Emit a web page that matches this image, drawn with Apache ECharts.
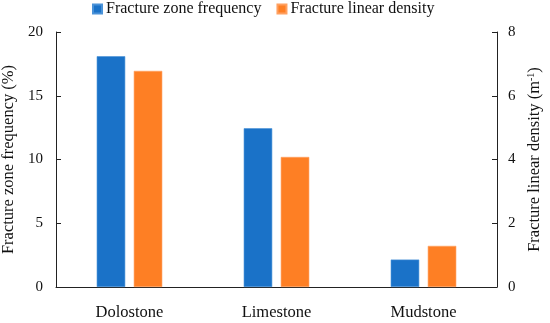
<!DOCTYPE html>
<html><head><meta charset="utf-8">
<script src="https://cdn.jsdelivr.net/npm/echarts@6/dist/echarts.min.js"></script>
<style>html,body{margin:0;padding:0;background:#fff}#c{width:550px;height:323px}</style>
</head><body><div id="c"></div>
<script>
var categories = ['Dolostone', 'Limestone', 'Mudstone'];
var zoneFrequency = [18.1, 12.45, 2.15];
var linearDensity = [6.78, 4.08, 1.29];
var leftTicks = [0, 5, 10, 15, 20];
var rightTicks = [0, 2, 4, 6, 8];

var font = '"Liberation Serif", "Times New Roman", serif';
var axisColor = '#222';
var chart = echarts.init(document.getElementById('c'));
chart.setOption({
  animation: false,
  textStyle: {fontFamily: font},
  legend: {
    top: -4, left: 87,
    itemWidth: 9, itemHeight: 9, itemGap: 15,
    icon: 'rect',
    textStyle: {fontFamily: font, fontSize: 16, color: '#111', padding: [0,0,0,-1]},
    data: ['Fracture zone frequency', 'Fracture linear density']
  },
  grid: {left: 56, right: 53, top: 32, bottom: 36, outerBoundsMode: 'none', containLabel: false},
  xAxis: {
    type: 'category', data: categories,
    axisLine: {lineStyle: {color: axisColor, width: 1}},
    axisTick: {show: false},
    axisLabel: {fontFamily: font, fontSize: 16.5, color: '#111', margin: 17}
  },
  yAxis: [{
    type: 'value', min: leftTicks[0], max: leftTicks[leftTicks.length-1], interval: 5,
    name: 'Fracture zone frequency (%)', nameLocation: 'middle', nameGap: 33,
    nameTextStyle: {fontFamily: font, fontSize: 16.5, color: '#111'},
    axisLine: {show: true, lineStyle: {color: axisColor, width: 1}},
    axisTick: {show: true, inside: true, length: 5, lineStyle: {color: axisColor}},
    axisLabel: {fontFamily: font, fontSize: 15, color: '#111', margin: 13},
    splitLine: {show: false}
  }, {
    type: 'value', min: rightTicks[0], max: rightTicks[rightTicks.length-1], interval: 2,
    name: 'Fracture linear density (m{sup|-1})', nameLocation: 'middle', nameGap: 28,
    nameRotate: 90,
    nameTextStyle: {fontFamily: font, fontSize: 16.5, color: '#111',
      rich: {sup: {fontFamily: font, fontSize: 10, color: '#111', verticalAlign: 'top', padding: [0,0,7,0]}}},
    axisLine: {show: true, lineStyle: {color: axisColor, width: 1}},
    axisTick: {show: true, inside: true, length: 5, lineStyle: {color: axisColor}},
    axisLabel: {fontFamily: font, fontSize: 15, color: '#111', margin: 11},
    splitLine: {show: false}
  }],
  series: [{
    name: 'Fracture zone frequency', type: 'bar', yAxisIndex: 0,
    data: zoneFrequency, barWidth: 28.5, barGap: '30%',
    itemStyle: {color: '#1a72c8', borderColor: '#4a92d8', borderWidth: 0.6}
  }, {
    name: 'Fracture linear density', type: 'bar', yAxisIndex: 1,
    data: linearDensity, barWidth: 28.5, barGap: '30%',
    itemStyle: {color: '#fe7f24', borderColor: '#ffa060', borderWidth: 0.6}
  }]
});
</script></body></html>
